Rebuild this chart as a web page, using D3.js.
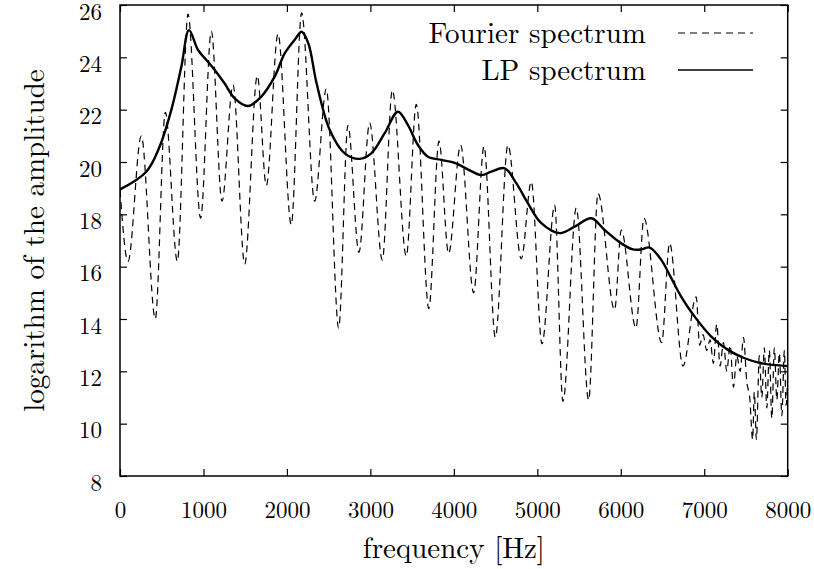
<!DOCTYPE html>
<html>
<head>
<meta charset="utf-8">
<script src="https://cdn.jsdelivr.net/npm/d3@7"></script>
<style>
  html, body { margin: 0; padding: 0; background: #fff; }
  svg text { font-family: "Latin Modern Roman", "CMU Serif", "Liberation Serif", "DejaVu Serif", serif; fill: #000; }
</style>
</head>
<body>
<svg id="chart" width="814" height="569"></svg>
<script>
// ---- data ----
const fourierFreq = [0, 96, 255, 423, 543, 687, 815, 966, 1094, 1222, 1354, 1494, 1645, 1753, 1893, 2052, 2176, 2332, 2472, 2620, 2731, 2863, 2991, 3143, 3263, 3430, 3550, 3700, 3822, 3937, 4081, 4237, 4361, 4497, 4648, 4808, 4928, 5056, 5208, 5307, 5467, 5615, 5727, 5926, 6006, 6182, 6278, 6490, 6585, 6745, 6904, 6945, 6985, 7030, 7070, 7110, 7150, 7190, 7230, 7270, 7310, 7350, 7390, 7430, 7470, 7510, 7545, 7580, 7600, 7625, 7660, 7690, 7720, 7750, 7780, 7810, 7840, 7870, 7900, 7930, 7960, 7980, 8000];
const fourierValue = [18.93, 16.2, 21.0, 14.0, 21.9, 16.2, 25.65, 17.85, 25.0, 18.5, 22.95, 16.1, 23.3, 19.1, 24.9, 17.6, 25.7, 18.5, 22.8, 13.65, 21.4, 16.55, 21.5, 16.25, 22.75, 16.4, 22.2, 14.4, 20.8, 16.5, 20.65, 15.0, 20.6, 13.3, 20.65, 16.3, 19.25, 13.05, 18.35, 10.85, 18.25, 10.9, 18.8, 14.35, 17.4, 13.65, 17.85, 13.1, 16.9, 12.2, 14.85, 13.0, 13.4, 12.8, 13.2, 12.3, 13.8, 12.2, 13.1, 12.0, 13.0, 11.4, 12.6, 12.0, 13.3, 11.6, 11.0, 9.4, 11.2, 9.4, 12.6, 11.0, 12.9, 10.6, 12.8, 10.2, 12.9, 10.9, 12.7, 10.3, 12.8, 10.7, 11.8];

const lpFreq = [0, 315, 475, 615, 735, 827, 935, 1035, 1135, 1254, 1374, 1534, 1693, 1853, 1973, 2100, 2176, 2256, 2356, 2516, 2692, 2871, 3011, 3171, 3330, 3450, 3570, 3690, 3850, 4010, 4150, 4329, 4449, 4609, 4748, 4888, 5048, 5268, 5448, 5647, 5807, 6006, 6146, 6246, 6346, 6485, 6605, 6725, 6885, 7084, 7284, 7484, 7683, 8000];
const lpValue = [18.95, 19.63, 20.59, 21.99, 23.64, 25.04, 24.28, 23.9, 23.52, 23.0, 22.43, 22.14, 22.5, 23.26, 24.15, 24.7, 24.98, 24.54, 23.0, 21.2, 20.33, 20.12, 20.33, 21.1, 21.92, 21.41, 20.65, 20.2, 20.08, 19.97, 19.75, 19.5, 19.63, 19.76, 19.19, 18.42, 17.66, 17.28, 17.53, 17.85, 17.4, 16.89, 16.66, 16.66, 16.73, 16.26, 15.56, 14.85, 14.09, 13.33, 12.82, 12.5, 12.31, 12.2];

const xTicks = [0, 1000, 2000, 3000, 4000, 5000, 6000, 7000, 8000];
const yTicks = [8, 10, 12, 14, 16, 18, 20, 22, 24, 26];
const seriesNames = ["Fourier spectrum", "LP spectrum"];
const xLabel = "frequency [Hz]";
const yLabel = "logarithm of the amplitude";

// ---- layout ----
const svg = d3.select("#chart");
const L = 120, R = 787.7, T = 5, B = 476;
const x = d3.scaleLinear().domain([0, 8000]).range([L, R]);
const y = d3.scaleLinear().domain([8, 26]).range([B, T]);
const tickLen = 7;

const fourier = fourierFreq.map((f, i) => ({f, v: fourierValue[i]}));
const lp = lpFreq.map((f, i) => ({f, v: lpValue[i]}));

svg.append("defs").append("clipPath").attr("id", "clip")
  .append("rect").attr("x", L).attr("y", T).attr("width", R - L).attr("height", B - T);

const g = svg.append("g");

// Fourier (dashed)
g.append("path")
  .datum(fourier)
  .attr("clip-path", "url(#clip)")
  .attr("fill", "none")
  .attr("stroke", "#000")
  .attr("stroke-width", 1.2)
  .attr("stroke-dasharray", "7,5")
  .attr("d", d3.line().x(d => x(d.f)).y(d => y(d.v)).curve(d3.curveMonotoneX));

// LP (solid)
g.append("path")
  .datum(lp)
  .attr("clip-path", "url(#clip)")
  .attr("fill", "none")
  .attr("stroke", "#000")
  .attr("stroke-width", 2.4)
  .attr("stroke-linejoin", "round")
  .attr("d", d3.line().x(d => x(d.f)).y(d => y(d.v)).curve(d3.curveCatmullRom.alpha(0.5)));

// axes with inward ticks (mirrored)
const axB = d3.axisBottom(x).tickValues(xTicks).tickSizeInner(-tickLen).tickSizeOuter(0).tickPadding(26).tickFormat(d3.format("d"));
const axT = d3.axisTop(x).tickValues(xTicks).tickSizeInner(-tickLen).tickSizeOuter(0).tickFormat("");
const axL = d3.axisLeft(y).tickValues(yTicks).tickSizeInner(-tickLen).tickSizeOuter(0).tickPadding(18).tickFormat(d3.format("d"));
const axR = d3.axisRight(y).tickValues(yTicks).tickSizeInner(-tickLen).tickSizeOuter(0).tickFormat("");

function style(sel) {
  sel.select(".domain").remove();
  sel.selectAll(".tick line").attr("stroke", "#000").attr("stroke-width", 1.2);
  sel.selectAll(".tick text").style("font-size", "23px");
}
svg.append("g").attr("transform", `translate(0,${B})`).call(axB).call(style);
svg.append("g").attr("transform", `translate(0,${T})`).call(axT).call(style);
const gl = svg.append("g").attr("transform", `translate(${L},0)`).call(axL).call(style);
svg.append("g").attr("transform", `translate(${R},0)`).call(axR).call(style);
svg.selectAll(".tick text").attr("font-family", null);
gl.selectAll(".tick text").attr("dy", "0.62em");

// frame
svg.append("rect").attr("x", L).attr("y", T).attr("width", R - L).attr("height", B - T)
  .attr("fill", "none").attr("stroke", "#000").attr("stroke-width", 1.5);

// axis labels
svg.append("text").attr("x", (L + R) / 2).attr("y", 558).attr("text-anchor", "middle")
  .style("font-size", "29px").text(xLabel);
svg.append("text").attr("transform", `translate(44,${(T + B) / 2}) rotate(-90)`).attr("text-anchor", "middle")
  .style("font-size", "29px").text(yLabel);

// legend
const legY = [33, 70];
seriesNames.forEach((name, i) => {
  svg.append("text").attr("x", 646).attr("y", legY[i] + 10).attr("text-anchor", "end")
    .style("font-size", "29px").text(name);
  svg.append("line").attr("x1", 678).attr("x2", 753).attr("y1", legY[i]).attr("y2", legY[i])
    .attr("stroke", "#000").attr("stroke-width", i === 0 ? 1.2 : 1.3)
    .attr("stroke-dasharray", i === 0 ? "7,5" : null);
});
</script>
</body>
</html>
